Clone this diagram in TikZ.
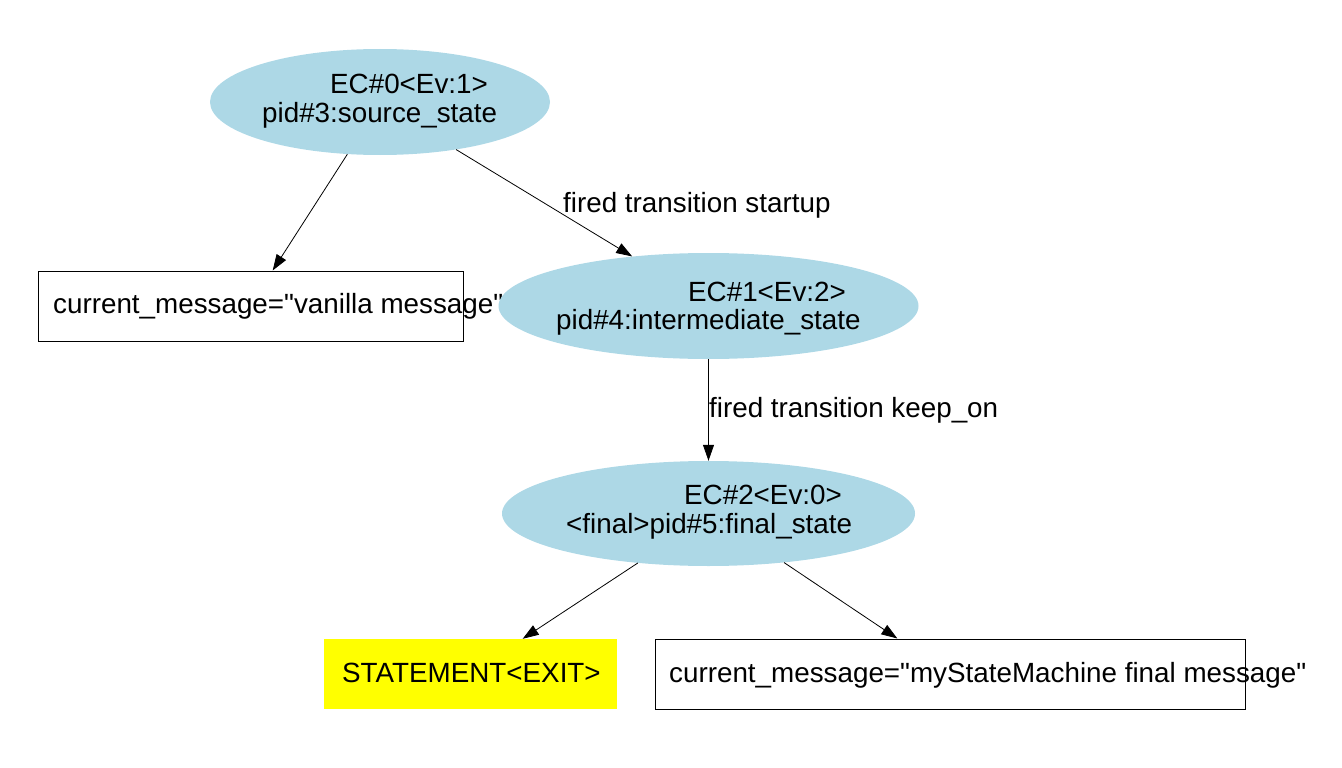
\documentclass[tikz,border=0pt]{standalone}
\usepackage{fontspec}
\setmainfont{Liberation Sans}[Ligatures=TeXOff]
\usetikzlibrary{shapes.geometric,arrows.meta}
\definecolor{gvlightblue}{HTML}{ADD8E6}
\definecolor{gvyellow}{HTML}{FFFF00}
\begin{document}
\begin{tikzpicture}[x=1pt,y=-1pt,
  every node/.style={font=\fontsize{27.8}{30}\selectfont},
  state/.style={ellipse, fill=gvlightblue, draw=none, inner sep=0pt},
  msgbox/.style={rectangle, draw=black, line width=1pt, fill=white, inner sep=0pt},
  exitbox/.style={rectangle, fill=gvyellow, draw=none, inner sep=0pt},
  txt/.style={anchor=base west, inner sep=0pt},
  edge/.style={draw=black, line width=0.8pt, -{Triangle[length=16pt,width=11pt]}}
]
\useasboundingbox (0,0) rectangle (1342,768);

% top state
\node[state, minimum width=340pt, minimum height=106pt] (e0) at (380,102) {};
\node[txt] (e0a) at (330,93) {EC\#0<Ev:1>};
\node[txt] (e0b) at (262,122) {pid\#3:source\_state};

% vanilla message box
\node[msgbox, minimum width=425pt, minimum height=70pt] (v) at (250.5,306) {};
\node[txt] (vt) at (53,313) {current\_message="vanilla message"};

% intermediate state
\node[state, minimum width=420pt, minimum height=106pt] (e1) at (708.5,306) {};
\node[txt] (e1a) at (688,301) {EC\#1<Ev:2>};
\node[txt] (e1b) at (556,329) {pid\#4:intermediate\_state};

% final state
\node[state, minimum width=413pt, minimum height=105pt] (e2) at (708.5,513.5) {};
\node[txt] (e2a) at (684,504.5) {EC\#2<Ev:0>};
\node[txt] (e2b) at (566,533.5) {<final>pid\#5:final\_state};

% exit statement
\node[exitbox, minimum width=293pt, minimum height=70pt] (x) at (470.5,674) {};
\node[txt] (xt) at (342,682) {STATEMENT<EXIT>};

% final message box
\node[msgbox, minimum width=590pt, minimum height=70pt] (f) at (950,674) {};
\node[txt] (ft) at (669,682) {current\_message="myStateMachine final message"};

% edges
\draw[edge] (e0.-122) -- (v.58.4);
\draw[edge] (e0.-32.6) -- (e1.147.2);
\node[txt] (l1) at (563,212) {fired transition startup};
\draw[edge] (e1.south) -- (e2.north);
\node[txt] (l2) at (709,417) {fired transition keep\_on};
\draw[edge] (e2.-145.2) -- (x.34.7);
\draw[edge] (e2.-33.9) -- (f.146.6);
\end{tikzpicture}
\end{document}
